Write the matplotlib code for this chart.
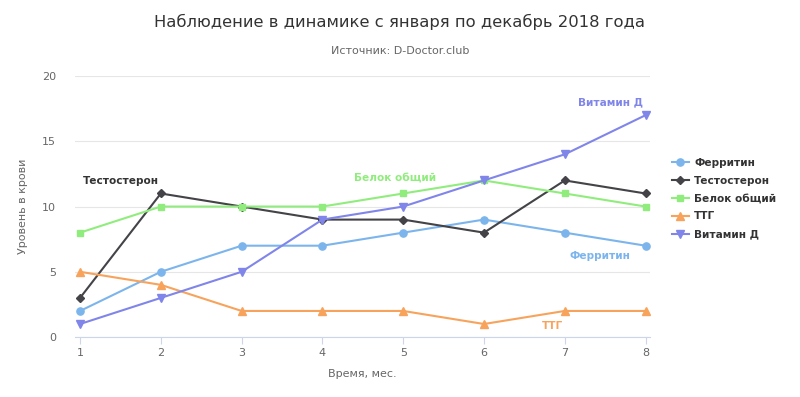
import matplotlib.pyplot as plt

plt.rcParams['font.family'] = ['DejaVu Sans']

# данные
months = [1, 2, 3, 4, 5, 6, 7, 8]
ferritin = [2, 5, 7, 7, 8, 9, 8, 7]
testosterone = [3, 11, 10, 9, 9, 8, 12, 11]
protein = [8, 10, 10, 10, 11, 12, 11, 10]
ttg = [5, 4, 2, 2, 2, 1, 2, 2]
vitamin_d = [1, 3, 5, 9, 10, 12, 14, 17]

series = [
    ('Ферритин', ferritin, '#7cb5ec', 'o', 5.2),
    ('Тестостерон', testosterone, '#434348', 'D', 3.6),
    ('Белок общий', protein, '#90ed7d', 's', 4.8),
    ('ТТГ', ttg, '#f7a35c', '^', 5.2),
    ('Витамин Д', vitamin_d, '#8085e9', 'v', 5.2),
]

# подписи серий прямо на графике
labels = [
    ('Тестостерон', 1.5, 11.95, '#333333'),
    ('Белок общий', 4.9, 12.26, '#90ed7d'),
    ('Витамин Д', 7.57, 18.0, '#8085e9'),
    ('Ферритин', 7.44, 6.2, '#7cb5ec'),
    ('ТТГ', 6.85, 0.84, '#f7a35c'),
]

fig = plt.figure(figsize=(8, 3.97), dpi=100)
ax = fig.add_axes([0.094, 0.151, 0.719, 0.6575])

for name, vals, col, mk, ms in series:
    ax.plot(months, vals, color=col, lw=1.5, marker=mk, markersize=ms,
            label=name, zorder=3)

for txt, x, y, col in labels:
    ax.text(x, y, txt, color=col, fontsize=7.6, fontweight='bold',
            ha='center', va='center', zorder=4)

ax.set_xlim(0.94, 8.06)
ax.set_ylim(0, 20)
ax.set_yticks([0, 5, 10, 15, 20])
ax.set_xticks(months)
ax.grid(axis='y', color='#e6e6e6', lw=0.8)
ax.set_axisbelow(True)
for s in ['top', 'right', 'left']:
    ax.spines[s].set_visible(False)
ax.spines['bottom'].set_color('#ccd6eb')
ax.tick_params(axis='y', length=0, labelsize=8, labelcolor='#666666', pad=14)
ax.tick_params(axis='x', length=5, color='#ccd6eb', labelsize=8,
               labelcolor='#666666', pad=3)

ax.set_xlabel('Время, мес.', fontsize=8, color='#666666', labelpad=8)
ax.set_ylabel('Уровень в крови', fontsize=8, color='#666666', labelpad=10)

fig.text(0.5, 0.945, 'Наблюдение в динамике с января по декабрь 2018 года',
         ha='center', va='center', fontsize=11.8, color='#333333')
fig.text(0.5, 0.872, 'Источник: D-Doctor.club', ha='center', va='center',
         fontsize=8, color='#666666')

leg = fig.legend(loc='center left', bbox_to_anchor=(0.828, 0.50), frameon=False,
                 prop={'weight': 'bold', 'size': 7.6}, handlelength=1.6,
                 labelspacing=0.75, handletextpad=0.5)
for t in leg.get_texts():
    t.set_color('#333333')

fig.savefig('out.png', dpi=100, facecolor='white')
